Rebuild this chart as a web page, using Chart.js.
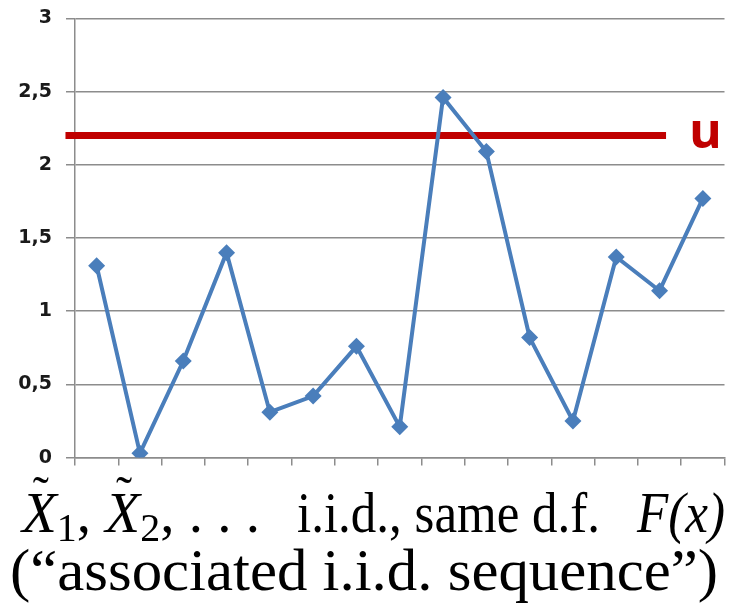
<!DOCTYPE html>
<html>
<head>
<meta charset="utf-8">
<script src="https://cdn.jsdelivr.net/npm/chart.js@4.4.1/dist/chart.umd.min.js"></script>
<style>
    html, body { margin: 0; padding: 0; background: #fff; width: 733px; height: 606px; overflow: hidden; position: relative; }
    #chart { position: absolute; left: 0; top: -7px; }
    .cap { position: absolute; font-family: "Liberation Serif", "DejaVu Serif", serif; color: #000; white-space: nowrap; line-height: 1; transform-origin: 0 0; }
    #math { left: 22px; top: 484px; font-size: 58px; }
    #txt1 { left: 297px; top: 484px; font-size: 58px; }
    #fx { left: 637px; top: 484px; font-size: 58px; font-style: italic; }
    #line2 { left: 10px; top: 540px; font-size: 60px; }
    .acc { position: relative; display: inline-block; font-style: italic; }
    .acc .tl { position: absolute; left: 0.22em; top: -0.3em; font-style: normal; font-size: 0.85em; }
    .sb { font-size: 0.7em; position: relative; top: 0.22em; }
</style>
</head>
<body>
<canvas id="chart" width="733" height="490"></canvas>
<div class="cap" id="math" data-w="238"><span class="acc">X<span class="tl">˜</span></span><span class="sb">1</span>, <span class="acc">X<span class="tl">˜</span></span><span class="sb">2</span>, . . .</div>
<div class="cap" id="txt1" data-w="303">i.i.d., same d.f.</div>
<div class="cap" id="fx" data-w="88">F(x)</div>
<div class="cap" id="line2" data-w="708">(“associated i.i.d. sequence”)</div>
<script>
    // sample values, one per category
    const categories = ['1','2','3','4','5','6','7','8','9','10','11','12','13','14','15'];
    const sampleValues = [1.31, 0.03, 0.66, 1.40, 0.31, 0.42, 0.76, 0.21, 2.46, 2.09, 0.82, 0.25, 1.37, 1.14, 1.77];
    const yTicks = [0, 0.5, 1, 1.5, 2, 2.5, 3];
    const uLevel = 2.2;
    const uLabel = 'u';
    const uFrom = -0.22;
    const uTo = 13.65;

    // squeeze caption pieces to their widths in the original
    document.querySelectorAll('.cap').forEach(el => {
        const w = el.getBoundingClientRect().width;
        el.style.transform = 'scaleX(' + (parseFloat(el.dataset.w) / w) + ')';
    });

    const points = sampleValues.map((v, i) => ({x: i + 0.5, y: v}));

    const uLabelPlugin = {
        id: 'uLabel',
        afterDatasetsDraw: (chart) => {
            const ctx = chart.ctx;
            const y = chart.scales.y.getPixelForValue(uLevel);
            const x = chart.scales.x.getPixelForValue(uTo);
            ctx.save();
            ctx.fillStyle = '#c00000';
            ctx.font = 'bold 50px "Open Sans", "DejaVu Sans", sans-serif';
            ctx.textAlign = 'left';
            ctx.textBaseline = 'middle';
            ctx.fillText(uLabel, x + 23, y - 2);
            ctx.restore();
        }
    };

    new Chart(document.getElementById('chart'), {
        type: 'line',
        data: {
            datasets: [{
                label: 'X',
                data: points,
                borderColor: '#4a7ebb',
                backgroundColor: '#4a7ebb',
                borderWidth: 4,
                pointStyle: 'rectRot',
                pointRadius: 8.5,
                pointBorderWidth: 0,
                tension: 0
            }, {
                label: 'u',
                data: [{x: uFrom, y: uLevel}, {x: uTo, y: uLevel}],
                borderColor: '#c00000',
                borderWidth: 7,
                pointRadius: 0,
                clip: false
            }]
        },
        plugins: [uLabelPlugin],
        options: {
            responsive: false,
            animation: false,
            layout: {padding: {top: 6, right: 8, left: 0, bottom: 0}},
            plugins: {legend: {display: false}, tooltip: {enabled: false}},
            scales: {
                x: {
                    type: 'linear',
                    min: 0,
                    max: categories.length,
                    ticks: {stepSize: 1, callback: () => '', font: {size: 1}, padding: 0},
                    grid: {drawOnChartArea: false, color: '#8c8c8c', lineWidth: 1.5, tickLength: 8},
                    border: {color: '#8c8c8c', width: 1.5},
                    afterFit: (scale) => { scale.height = 13; }
                },
                y: {
                    min: 0,
                    max: 3,
                    afterBuildTicks: (scale) => { scale.ticks = yTicks.map(v => ({value: v})); },
                    ticks: {
                        callback: (v) => String(v).replace('.', ','),
                        color: '#1a1a1a',
                        font: {family: '"DejaVu Sans", sans-serif', size: 19, weight: 'bold'},
                        padding: 14
                    },
                    grid: {color: '#8c8c8c', lineWidth: 1.5, tickLength: 9},
                    border: {color: '#8c8c8c', width: 1.5},
                    afterFit: (scale) => { scale.width = 75; }
                }
            }
        }
    });
</script>
</body>
</html>
